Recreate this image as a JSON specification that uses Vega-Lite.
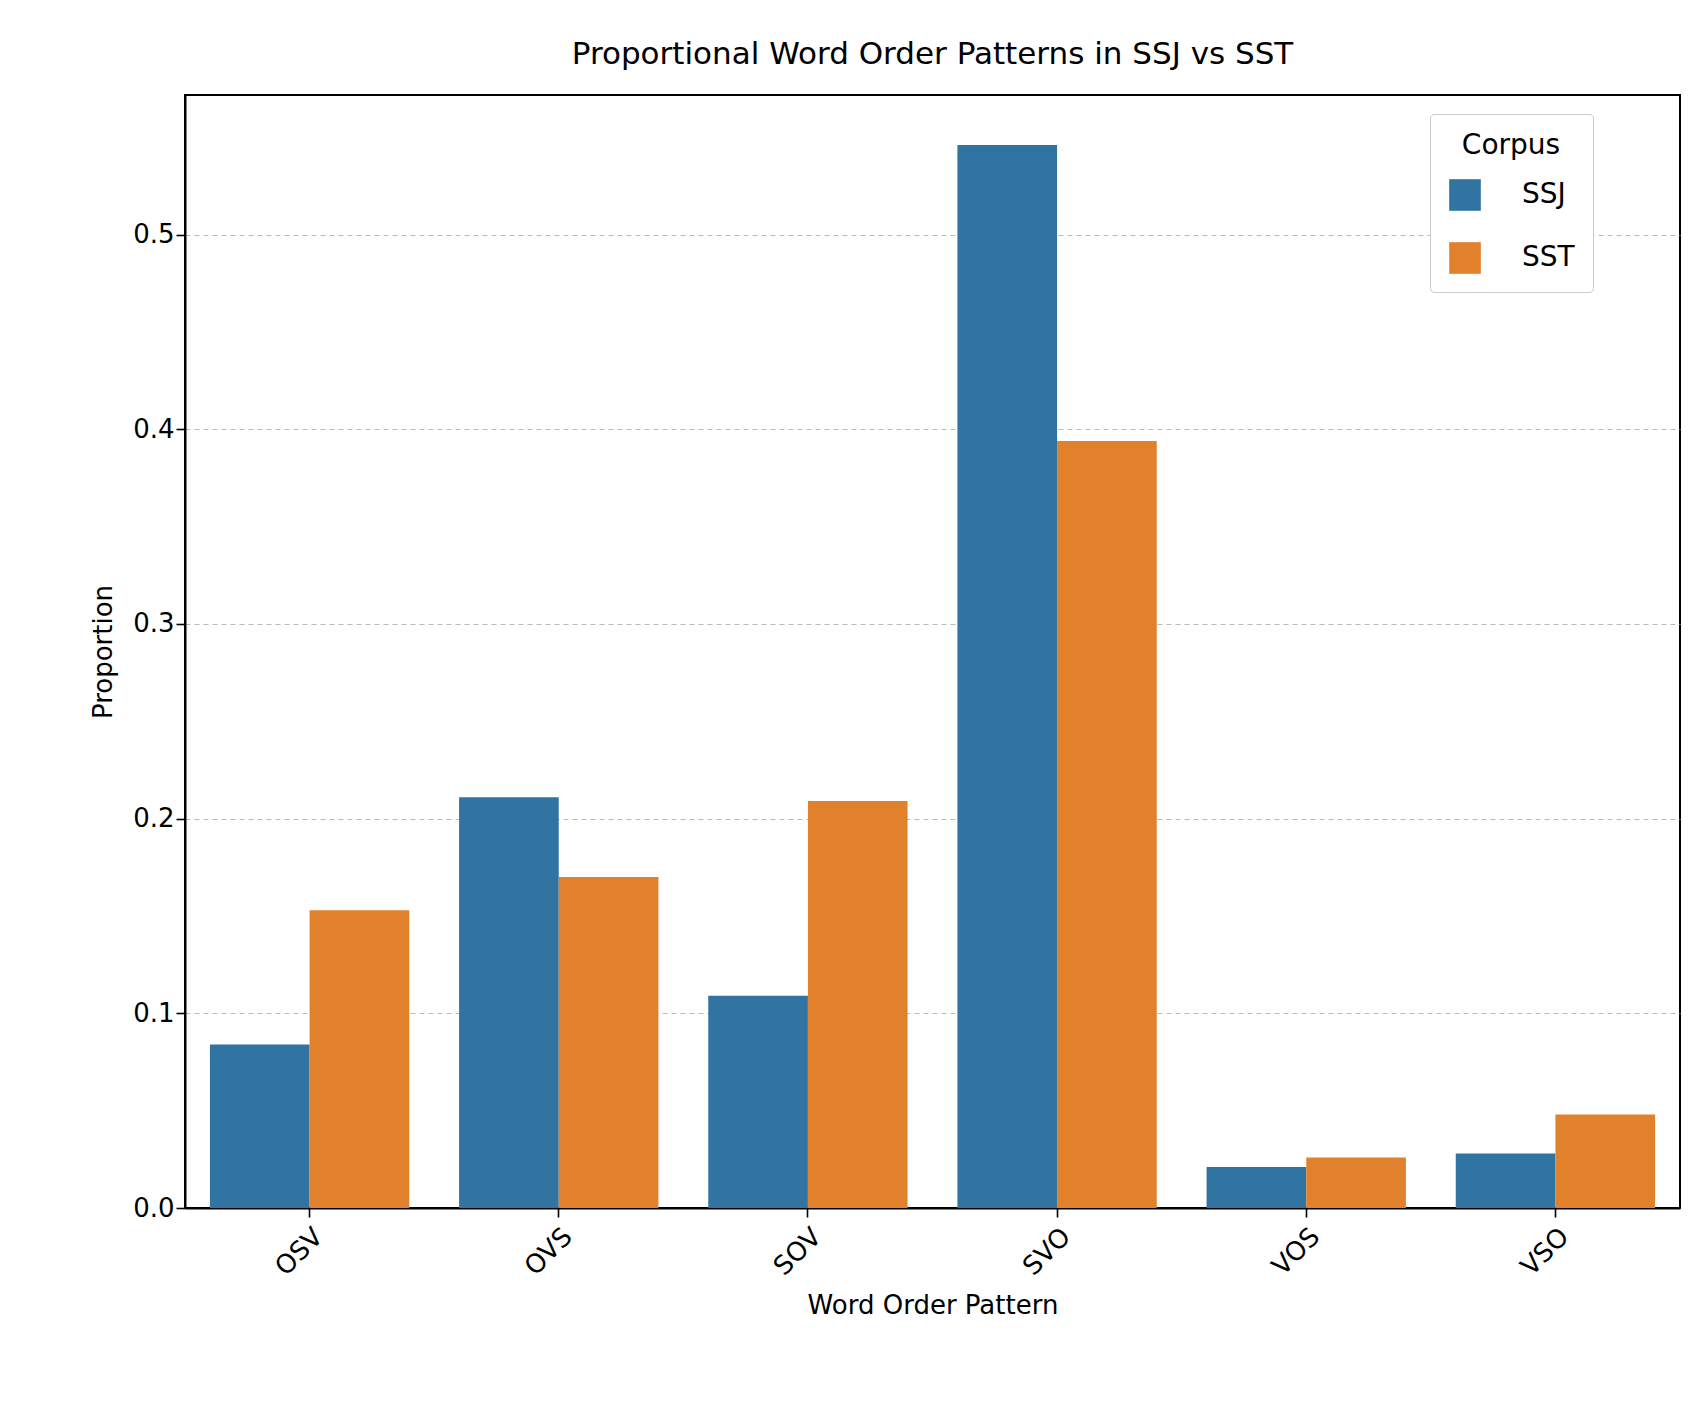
{
  "$schema": "https://vega.github.io/schema/vega-lite/v6.json",
  "autosize": {"type": "none"},
  "padding": {"left": 185, "top": 95, "right": 22, "bottom": 203},
  "width": 1495,
  "height": 1113,
  "background": "white",
  "title": {"text": "Proportional Word Order Patterns in SSJ vs SST", "fontSize": 31, "font": "DejaVu Sans", "fontWeight": "normal", "offset": 24, "color": "black"},
  "data": {"values": [
    {"pattern": "OSV", "corpus": "SSJ", "proportion": 0.084},
    {"pattern": "OSV", "corpus": "SST", "proportion": 0.153},
    {"pattern": "OVS", "corpus": "SSJ", "proportion": 0.211},
    {"pattern": "OVS", "corpus": "SST", "proportion": 0.170},
    {"pattern": "SOV", "corpus": "SSJ", "proportion": 0.109},
    {"pattern": "SOV", "corpus": "SST", "proportion": 0.209},
    {"pattern": "SVO", "corpus": "SSJ", "proportion": 0.546},
    {"pattern": "SVO", "corpus": "SST", "proportion": 0.394},
    {"pattern": "VOS", "corpus": "SSJ", "proportion": 0.021},
    {"pattern": "VOS", "corpus": "SST", "proportion": 0.026},
    {"pattern": "VSO", "corpus": "SSJ", "proportion": 0.028},
    {"pattern": "VSO", "corpus": "SST", "proportion": 0.048}
  ]},
  "mark": {"type": "bar"},
  "encoding": {
    "x": {"field": "pattern", "type": "nominal", "title": "Word Order Pattern",
      "scale": {"paddingInner": 0.2, "paddingOuter": 0.1},
      "axis": {"labelAngle": -45, "labelAlign": "right", "labelBaseline": "top", "labelFontSize": 26, "titleFontSize": 26, "labelFont": "DejaVu Sans", "titleFont": "DejaVu Sans", "titleFontWeight": "normal", "labelColor": "black", "titleColor": "black", "domainColor": "black", "tickColor": "black", "tickSize": 9, "tickWidth": 1.6, "domainWidth": 2, "labelPadding": 6, "titlePadding": 12}},
    "xOffset": {"field": "corpus"},
    "y": {"field": "proportion", "type": "quantitative", "title": "Proportion",
      "scale": {"domain": [0, 0.5717], "nice": false},
      "axis": {"values": [0, 0.1, 0.2, 0.3, 0.4, 0.5], "format": ".1f", "labelFontSize": 26, "titleFontSize": 26, "labelFont": "DejaVu Sans", "titleFont": "DejaVu Sans", "titleFontWeight": "normal", "labelColor": "black", "titleColor": "black", "domainColor": "black", "tickColor": "black", "tickSize": 9, "tickWidth": 1.6, "domainWidth": 2, "gridDash": [5, 4], "gridColor": "#bbbbbb", "titlePadding": 16}},
    "color": {"field": "corpus", "type": "nominal", "title": "Corpus",
      "scale": {"domain": ["SSJ", "SST"], "range": ["#3274a1", "#e1812c"]},
      "legend": {"orient": "none", "legendX": 1245, "legendY": 19, "symbolType": "square", "symbolSize": 1000, "labelFontSize": 28, "titleFontSize": 28, "titleFontWeight": "normal", "labelFont": "DejaVu Sans", "titleFont": "DejaVu Sans", "titleAnchor": "middle", "titlePadding": 18, "labelColor": "black", "titleColor": "black", "padding": 18, "rowPadding": 30, "labelOffset": 40, "strokeColor": "#cccccc", "fillColor": "white", "cornerRadius": 4}}
  },
  "config": {"view": {"stroke": "black", "strokeWidth": 2}}
}
